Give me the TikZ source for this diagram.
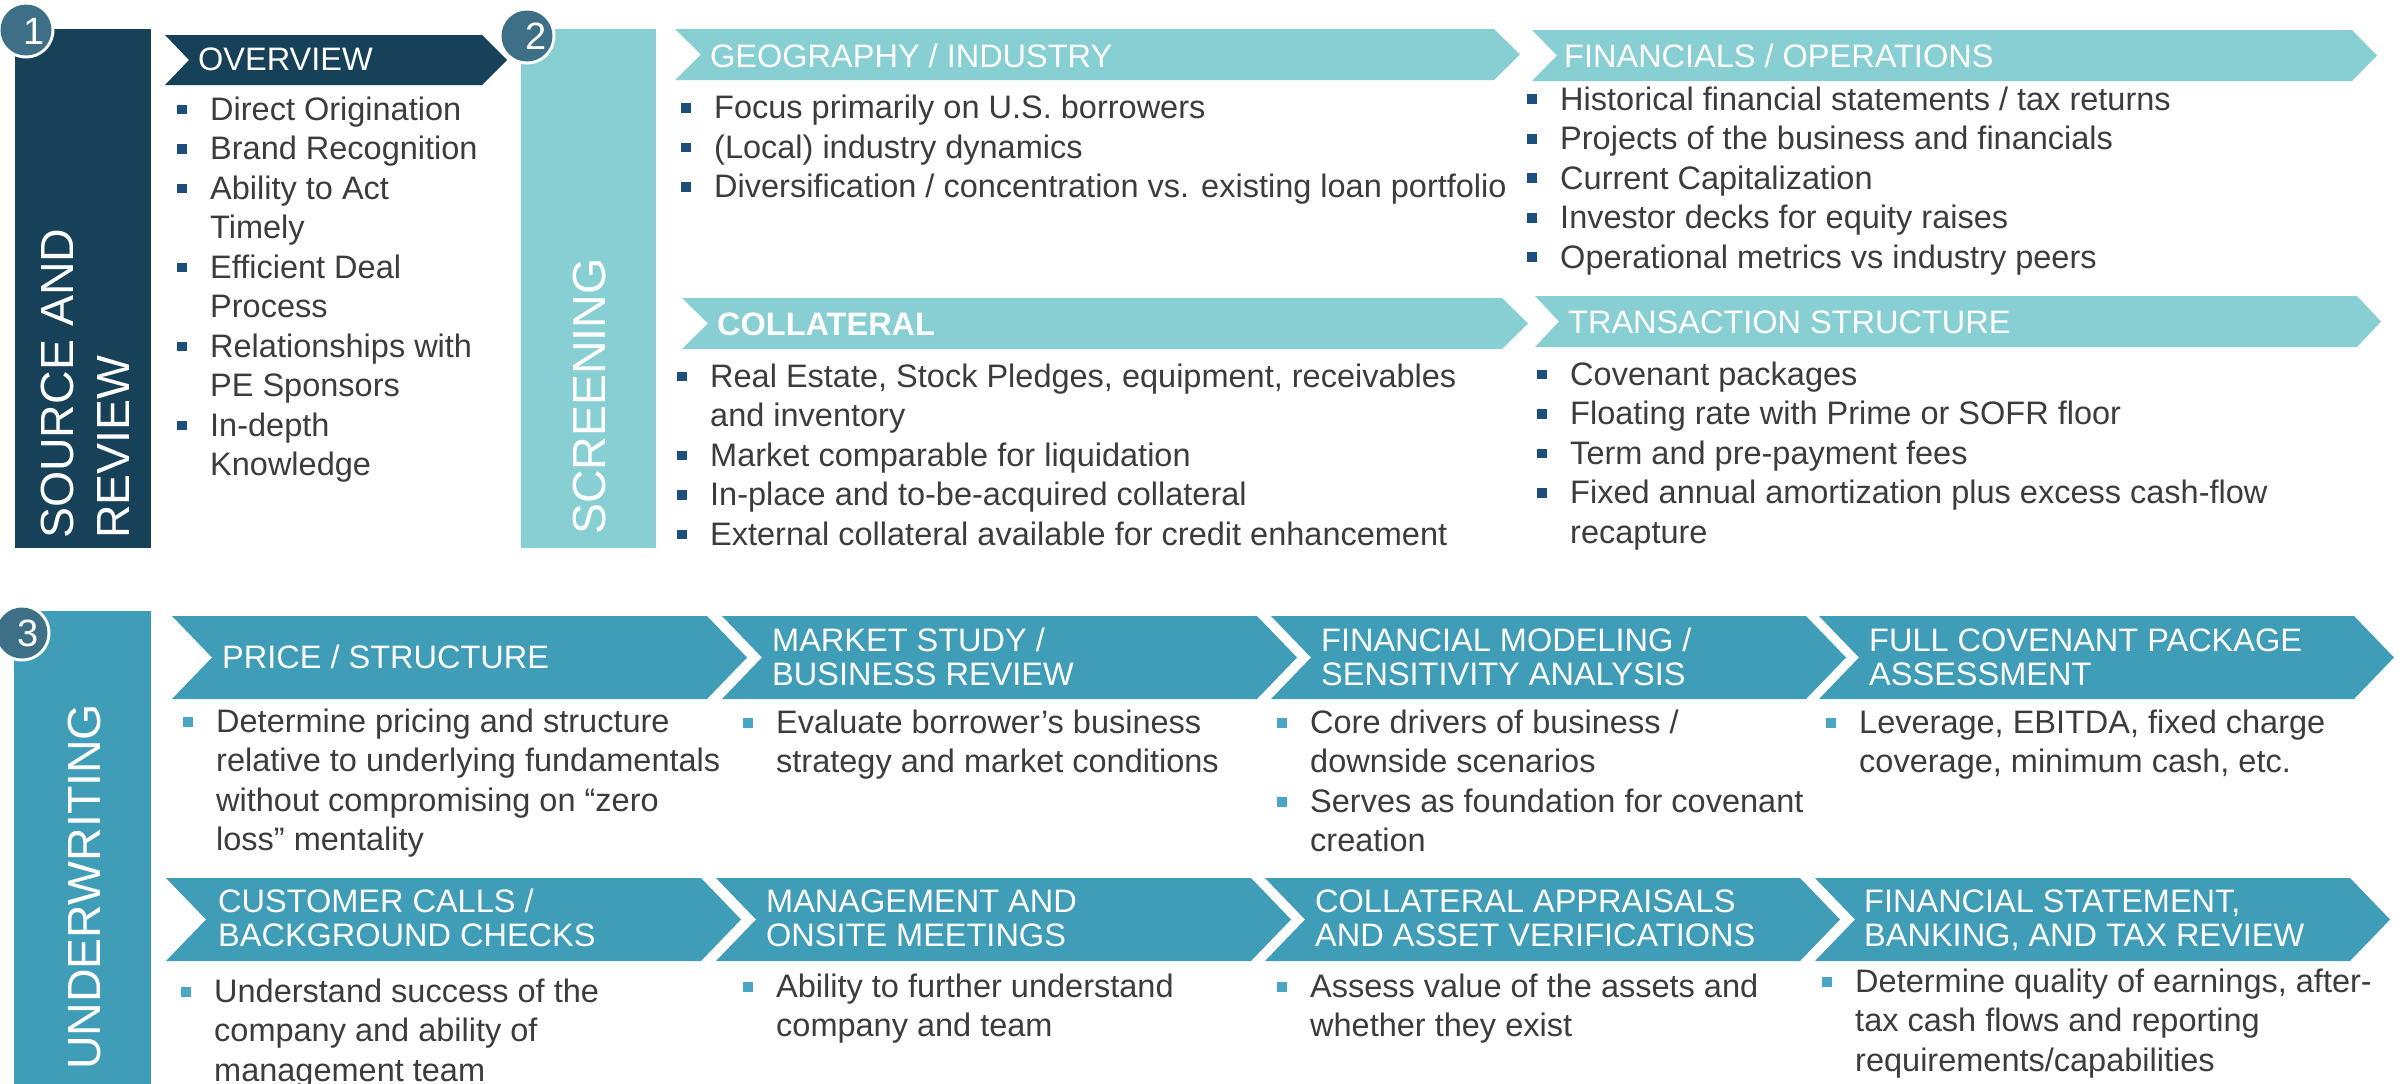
\documentclass[tikz,border=0pt]{standalone}
\usepackage{fontspec}
\setmainfont{Liberation Sans}
\definecolor{navybox}{RGB}{22,65,89}
\definecolor{scrteal}{RGB}{136,207,211}
\definecolor{uwblue}{RGB}{64,157,184}
\definecolor{circblue}{RGB}{61,112,135}
\definecolor{txtgrey}{RGB}{60,60,60}
\definecolor{bulnavy}{RGB}{29,79,126}
\definecolor{bulblue}{RGB}{74,166,196}
\newcommand{\bsq}{\llap{\textcolor{bulnavy}{\rule[6pt]{9.5pt}{9.5pt}}\hspace{23.5pt}}}
\newcommand{\usq}{\llap{\textcolor{bulblue}{\rule[5.5pt]{9.5pt}{9.5pt}}\hspace{23.5pt}}}
\newcommand{\txtrows}[1]{\begin{tabular}[t]{@{}l@{}}#1\end{tabular}}
\begin{document}
\begin{tikzpicture}[x=1pt,y=-1pt,
  listtext/.style={anchor=base west,inner sep=0pt,text=txtgrey,
    font=\fontsize{32.5}{39.5}\selectfont},
  headtext/.style={anchor=base west,inner sep=0pt,text=white,
    font=\fontsize{32.5}{34.5}\selectfont},
  sidetext/.style={anchor=base west,inner sep=0pt,text=white,rotate=90,
    font=\fontsize{46.5}{56}\selectfont},
  numtext/.style={inner sep=0pt,text=white,font=\fontsize{38}{38}\selectfont}]
\useasboundingbox (0,0) rectangle (2402,1084);
\fill[white] (0,0) rectangle (2402,1084);
% side bars
\fill[navybox] (15,29) rectangle (151,548);
\fill[scrteal] (521,29) rectangle (656,548);
\fill[uwblue] (14,611) rectangle (151,1084);
\node[sidetext] (srctitle) at (73,539) {\txtrows{SOURCE AND\\REVIEW}};
\node[sidetext] (scrtitle) at (605,535) {SCREENING};
\node[sidetext] (uwtitle) at (100,1070) {UNDERWRITING};
% source and review
\fill[navybox] (165,35) -- (482,35) -- (507,60) -- (482,85) -- (165,85)
  -- (189,60) -- cycle;
\node[headtext] (ovhead) at (198,70) {OVERVIEW};
\node[listtext] (ovlist) at (210,120) {\txtrows{\bsq Direct Origination\\
  \bsq Brand Recognition\\ \bsq Ability to Act\\ Timely\\
  \bsq Efficient Deal\\ Process\\ \bsq Relationships with\\ PE Sponsors\\
  \bsq In-depth\\ Knowledge}};
% screening
\fill[scrteal] (675,29) -- (1494,29) -- (1520,54.5) -- (1494,80) -- (675,80)
  -- (701,54.5) -- cycle;
\fill[scrteal] (1532,30) -- (2352,30) -- (2377,55.5) -- (2352,81) -- (1532,81)
  -- (1557,55.5) -- cycle;
\fill[scrteal] (682,298) -- (1502,298) -- (1528,323.5) -- (1502,349)
  -- (682,349) -- (708,323.5) -- cycle;
\fill[scrteal] (1535,296) -- (2357,296) -- (2381,321.5) -- (2357,347)
  -- (1535,347) -- (1559,321.5) -- cycle;
\node[headtext] (geohead) at (710,67) {GEOGRAPHY / INDUSTRY};
\node[headtext] (finhead) at (1564,67) {FINANCIALS / OPERATIONS};
\node[headtext,font=\fontsize{32.5}{34.5}\selectfont\bfseries] (colhead)
  at (717,335) {COLLATERAL};
\node[headtext] (trnhead) at (1568,333) {TRANSACTION STRUCTURE};
\node[listtext] (geolist) at (714,118.5) {\txtrows{%
  \bsq Focus primarily on U.S. borrowers\\
  \bsq (Local) industry dynamics\\
  \bsq Diversification / concentration vs. existing loan portfolio}};
\node[listtext] (finlist) at (1560,110) {\txtrows{%
  \bsq Historical financial statements / tax returns\\
  \bsq Projects of the business and financials\\
  \bsq Current Capitalization\\
  \bsq Investor decks for equity raises\\
  \bsq Operational metrics vs industry peers}};
\node[listtext] (collist) at (710,387) {\txtrows{%
  \bsq Real Estate, Stock Pledges, equipment, receivables\\ and inventory\\
  \bsq Market comparable for liquidation\\
  \bsq In-place and to-be-acquired collateral\\
  \bsq External collateral available for credit enhancement}};
\node[listtext] (trnlist) at (1570,385) {\txtrows{%
  \bsq Covenant packages\\
  \bsq Floating rate with Prime or SOFR floor\\
  \bsq Term and pre-payment fees\\
  \bsq Fixed annual amortization plus excess cash-flow\\ recapture}};
% underwriting, upper row
\fill[uwblue] (172,616) -- (707,616) -- (747,657.5) -- (707,699) -- (172,699)
  -- (212,657.5) -- cycle;
\fill[uwblue] (722,616) -- (1257,616) -- (1297,657.5) -- (1257,699)
  -- (722,699) -- (762,657.5) -- cycle;
\fill[uwblue] (1271,616) -- (1806,616) -- (1846,657.5) -- (1806,699)
  -- (1271,699) -- (1311,657.5) -- cycle;
\fill[uwblue] (1819,616) -- (2354,616) -- (2394,657.5) -- (2354,699)
  -- (1819,699) -- (1859,657.5) -- cycle;
\node[headtext] (prchead) at (222,668) {PRICE / STRUCTURE};
\node[headtext] (mkthead) at (772,651) {\txtrows{MARKET STUDY /\\
  BUSINESS REVIEW}};
\node[headtext] (mdlhead) at (1321,651) {\txtrows{FINANCIAL MODELING /\\
  SENSITIVITY ANALYSIS}};
\node[headtext] (covhead) at (1869,651) {\txtrows{FULL COVENANT PACKAGE\\
  ASSESSMENT}};
\node[listtext] (prclist) at (216,732) {\txtrows{%
  \usq Determine pricing and structure\\
  relative to underlying fundamentals\\
  without compromising on “zero\\ loss” mentality}};
\node[listtext] (mktlist) at (776,733) {\txtrows{%
  \usq Evaluate borrower’s business\\ strategy and market conditions}};
\node[listtext] (mdllist) at (1310,733) {\txtrows{%
  \usq Core drivers of business /\\ downside scenarios\\
  \usq Serves as foundation for covenant\\ creation}};
\node[listtext] (covlist) at (1859,733) {\txtrows{%
  \usq Leverage, EBITDA, fixed charge\\ coverage, minimum cash, etc.}};
% underwriting, lower row
\fill[uwblue] (166,878) -- (701,878) -- (741,919.5) -- (701,961) -- (166,961)
  -- (206,919.5) -- cycle;
\fill[uwblue] (716,878) -- (1251,878) -- (1291,919.5) -- (1251,961)
  -- (716,961) -- (756,919.5) -- cycle;
\fill[uwblue] (1265,878) -- (1800,878) -- (1840,919.5) -- (1800,961)
  -- (1265,961) -- (1305,919.5) -- cycle;
\fill[uwblue] (1815,878) -- (2350,878) -- (2390,919.5) -- (2350,961)
  -- (1815,961) -- (1855,919.5) -- cycle;
\node[headtext] (cushead) at (218,912) {\txtrows{CUSTOMER CALLS /\\
  BACKGROUND CHECKS}};
\node[headtext] (mgthead) at (766,912) {\txtrows{MANAGEMENT AND\\
  ONSITE MEETINGS}};
\node[headtext] (aprhead) at (1315,912) {\txtrows{COLLATERAL APPRAISALS\\
  AND ASSET VERIFICATIONS}};
\node[headtext] (stmhead) at (1864,912) {\txtrows{FINANCIAL STATEMENT,\\
  BANKING, AND TAX REVIEW}};
\node[listtext] (cuslist) at (214,1002) {\txtrows{%
  \usq Understand success of the\\ company and ability of\\
  management team}};
\node[listtext] (mgtlist) at (776,997) {\txtrows{%
  \usq Ability to further understand\\ company and team}};
\node[listtext] (aprlist) at (1310,997) {\txtrows{%
  \usq Assess value of the assets and\\ whether they exist}};
\node[listtext] (stmlist) at (1855,992) {\txtrows{%
  \usq Determine quality of earnings, after-\\
  tax cash flows and reporting\\ requirements/capabilities}};
% step numbers
\fill[white] (26,30) circle (28.5);
\fill[circblue] (26,30) circle (25.5);
\node[numtext] (numone) at (34,31) {1};
\fill[white] (527,36) circle (28.5);
\fill[circblue] (527,36) circle (25.5);
\node[numtext] (numtwo) at (536,36) {2};
\fill[white] (22,633) circle (28.5);
\fill[circblue] (22,633) circle (25.5);
\node[numtext] (numthree) at (28,633) {3};
\end{tikzpicture}
\end{document}
